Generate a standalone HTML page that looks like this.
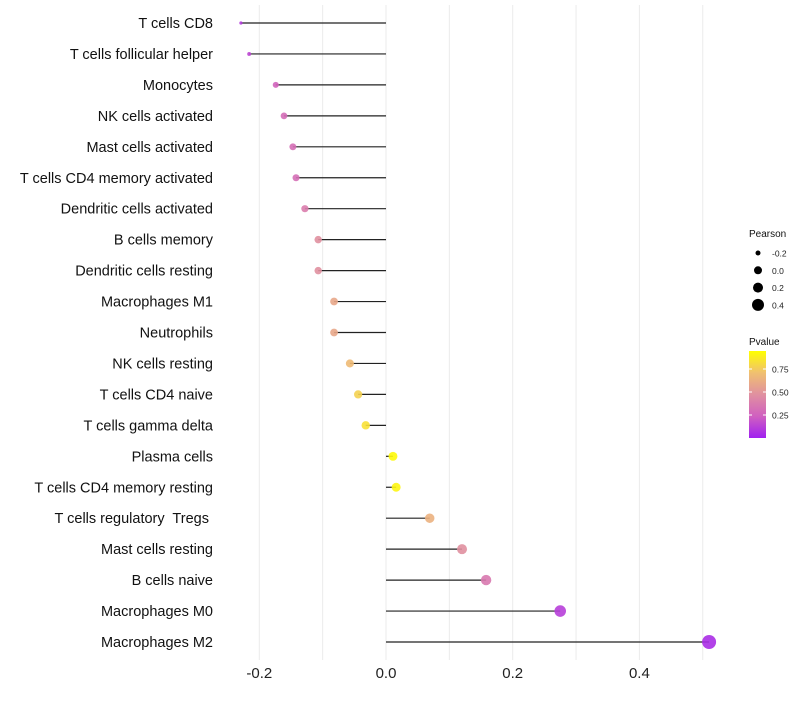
<!DOCTYPE html>
<html><head><meta charset="utf-8"><style>
body{margin:0;background:#fff;}
svg{font-family:"Liberation Sans",sans-serif;}
text{white-space:pre;}
</style></head><body>
<svg id="c" width="800" height="700"></svg>
<script>
const categories=["T cells CD8","T cells follicular helper","Monocytes","NK cells activated","Mast cells activated","T cells CD4 memory activated","Dendritic cells activated","B cells memory","Dendritic cells resting","Macrophages M1","Neutrophils","NK cells resting","T cells CD4 naive","T cells gamma delta","Plasma cells","T cells CD4 memory resting","T cells regulatory  Tregs ","Mast cells resting","B cells naive","Macrophages M0","Macrophages M2"];
const pearson=[-0.229,-0.216,-0.174,-0.161,-0.147,-0.142,-0.128,-0.107,-0.107,-0.082,-0.082,-0.057,-0.044,-0.032,0.011,0.016,0.069,0.12,0.158,0.275,0.51];
const pvalue=[0.1,0.15,0.27,0.32,0.33,0.33,0.4,0.5,0.5,0.62,0.62,0.72,0.82,0.88,0.98,0.96,0.67,0.5,0.38,0.12,0.05];
const xTicks=[-0.2,0,0.2,0.4];
const xTickLabels=["-0.2","0.0","0.2","0.4"];
const sizeLegend=[-0.2,0,0.2,0.4];
const colorTicks=[0.25,0.5,0.75];
const NS="http://www.w3.org/2000/svg";
const svg=document.getElementById('c');
function mk(t,a,p){const e=document.createElementNS(NS,t);for(const k in a)e.setAttribute(k,a[k]);(p||svg).appendChild(e);return e;}
const xs=v=>386+v*633.5;
const ys=i=>23+i*30.95;
const sd=[-0.229,-0.16,0,0.51],sr=[1.6,3.4,4.4,7];
function rs(v){if(v<=sd[0])return sr[0];for(let i=1;i<sd.length;i++){if(v<=sd[i]){const t=(v-sd[i-1])/(sd[i]-sd[i-1]);return sr[i-1]+t*(sr[i]-sr[i-1]);}}return sr[sr.length-1];}
const stops=[[0,[160,32,240]],[0.25,[208,96,192]],[0.5,[224,144,160]],[0.75,[240,192,112]],[1,[255,255,0]]];
function col(p){for(let i=1;i<stops.length;i++){if(p<=stops[i][0]){const a=stops[i-1],b=stops[i],t=(p-a[0])/(b[0]-a[0]);const c=a[1].map((v,j)=>Math.round(v+(b[1][j]-v)*t));return `rgb(${c})`;}}return 'rgb(255,255,0)';}
for(let g=-0.2;g<=0.51;g+=0.1){const l=mk('line',{x1:xs(g),x2:xs(g),y1:5,y2:660,stroke:'#ebebeb','stroke-width':1});
}
xTicks.forEach((v,i)=>{const t=mk('text',{x:xs(v),y:678,'text-anchor':'middle','font-size':15,fill:'#222'});t.textContent=xTickLabels[i];
});
categories.forEach((c,i)=>{const y=ys(i);
const t=mk('text',{x:213,y:y+5,'text-anchor':'end','font-size':14.5,fill:'#111'});t.textContent=c;

const l=mk('line',{x1:xs(0),x2:xs(pearson[i]),y1:y,y2:y,stroke:'#222','stroke-width':1.2});

const d=mk('circle',{cx:xs(pearson[i]),cy:y,r:rs(pearson[i]),fill:col(pvalue[i]),'fill-opacity':0.9});
});
const lt=mk('text',{x:749,y:237,'font-size':10,fill:'#111'});lt.textContent='Pearson';

sizeLegend.forEach((v,i)=>{const y=253+i*17.3;
const d=mk('circle',{cx:758,cy:y,r:[2.5,4,5,6][i],fill:'#000'});

const t=mk('text',{x:772,y:y+3.5,'font-size':8.5,fill:'#222'});t.textContent=v.toFixed(1);
});
const pt=mk('text',{x:749,y:345,'font-size':10,fill:'#111'});pt.textContent='Pvalue';

const defs=mk('defs',{});const g=mk('linearGradient',{id:'gr',x1:0,y1:1,x2:0,y2:0},defs);
stops.forEach(s=>mk('stop',{offset:s[0],'stop-color':`rgb(${s[1]})`},g));
const bar=mk('rect',{x:749,y:351,width:17,height:87,fill:'url(#gr)'});

colorTicks.forEach(v=>{const y=438-v*92;
mk('line',{x1:749,x2:752,y1:y,y2:y,stroke:'#fff'});mk('line',{x1:763,x2:766,y1:y,y2:y,stroke:'#fff'});
const t=mk('text',{x:772,y:y+3.5,'font-size':8.5,fill:'#222'});t.textContent=v.toFixed(2);
});
</script>
</body></html>
